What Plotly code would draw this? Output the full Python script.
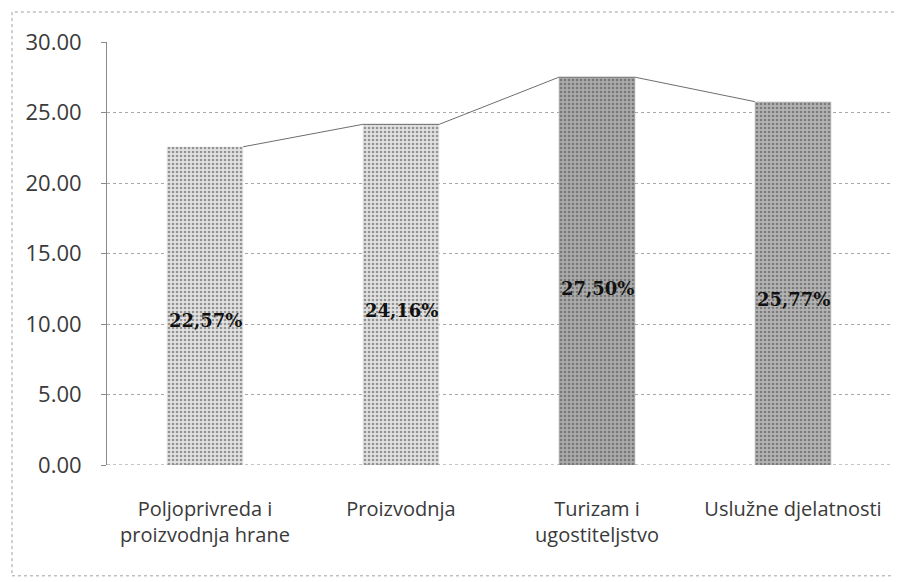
import plotly.graph_objects as go

categories = ["Poljoprivreda i<br>proizvodnja hrane", "Proizvodnja", "Turizam i<br>ugostiteljstvo", "Uslužne djelatnosti"]
values = [22.57, 24.16, 27.50, 25.77]
labels = ["22,57%", "24,16%", "27,50%", "25,77%"]
tick_vals = [0, 5, 10, 15, 20, 25, 30]
tick_text = ["0.00", "5.00", "10.00", "15.00", "20.00", "25.00", "30.00"]

bar_w = 0.39
xs = list(range(len(values)))
bg_cols = ["#e2e2e2", "#e2e2e2", "#ababab", "#b3b3b3"]
fg_cols = ["#a0a0a0", "#a0a0a0", "#4a4a4a", "#555555"]

fig = go.Figure()
fig.add_trace(go.Bar(
    x=xs, y=values, width=bar_w,
    marker=dict(color=bg_cols, line=dict(width=0),
                pattern=dict(shape=".", fgcolor=fg_cols, bgcolor=bg_cols, size=4, solidity=0.35)),
    showlegend=False, hoverinfo="skip"))

# line connecting bar top corners
lx, ly = [], []
for i, v in enumerate(values):
    lx += [i - bar_w / 2, i + bar_w / 2]
    ly += [v, v]
fig.add_trace(go.Scatter(x=lx[1:-1], y=ly[1:-1], mode="lines",
                         line=dict(color="#6e6e6e", width=1), showlegend=False, hoverinfo="skip"))

for i, (v, t) in enumerate(zip(values, labels)):
    fig.add_annotation(x=i, y=v * 0.455, text="<b>" + t + "</b>", showarrow=False,
                       font=dict(family="DejaVu Serif", size=18, color="#111111"))

fig.update_layout(
    width=894, height=574,
    margin=dict(l=99, r=11, t=34, b=117),
    paper_bgcolor="white", plot_bgcolor="white",
    xaxis=dict(range=[-0.5, 3.5], tickvals=xs, ticktext=categories,
               showgrid=False, zeroline=False, showline=False,
               tickfont=dict(family="Open Sans", size=20, color="#3a3a3a"),
               ticklabelstandoff=30, ticks=""),
    yaxis=dict(range=[0, 30], tickvals=tick_vals, ticktext=tick_text,
               showgrid=True, gridcolor="#a8a8a8", griddash="dot", gridwidth=1,
               zeroline=False, showline=True, linecolor="#8a8a8a", linewidth=1,
               ticks="outside", ticklen=5, tickcolor="#8a8a8a",
               tickfont=dict(family="Open Sans", size=22, color="#3a3a3a"),
               ticklabelstandoff=15),
)
# x baseline
fig.add_shape(type="line", xref="paper", yref="y", x0=0, x1=1, y0=0, y1=0,
              line=dict(color="#8a8a8a", width=1, dash="dot"))
# outer chart border
fig.add_shape(type="rect", xref="paper", yref="paper",
              x0=-0.1212, x1=1.0115, y0=-0.262, y1=1.0709,
              line=dict(color="#a0a0a0", width=1, dash="dot"))

fig.write_html("out.html")
